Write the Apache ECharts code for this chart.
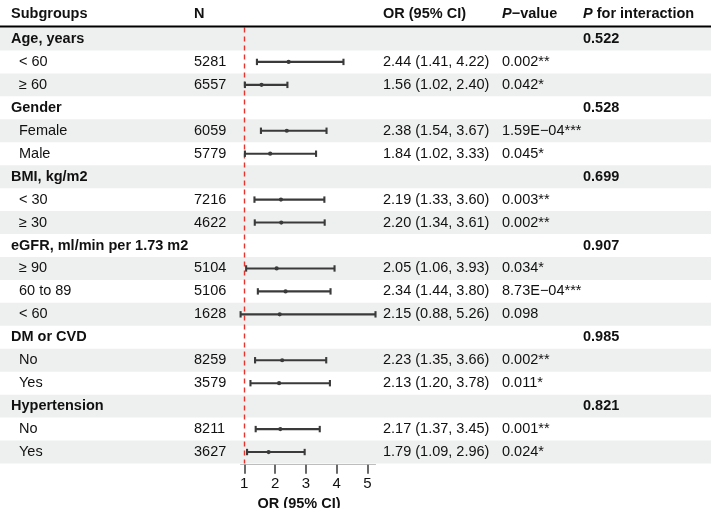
<!DOCTYPE html>
<html><head><meta charset="utf-8">
<script src="https://cdn.jsdelivr.net/npm/echarts@6/dist/echarts.min.js"></script>
<style>html,body{margin:0;padding:0;background:#fff}#c{width:711px;height:508px}</style>
</head><body><div id="c"></div>
<script>
// ---- data ----
const subgroups = ['Age, years', '< 60', '\u2265 60', 'Gender', 'Female', 'Male', 'BMI, kg/m2', '< 30', '\u2265 30',
  'eGFR, ml/min per 1.73 m2', '\u2265 90', '60 to 89', '< 60', 'DM or CVD', 'No', 'Yes', 'Hypertension', 'No', 'Yes'];
const isGroup = [1,0,0,1,0,0,1,0,0,1,0,0,0,1,0,0,1,0,0];
const nValues = ['', '5281', '6557', '', '6059', '5779', '', '7216', '4622', '', '5104', '5106', '1628', '', '8259', '3579', '', '8211', '3627'];
const orValues = [null, 2.44, 1.56, null, 2.38, 1.84, null, 2.19, 2.20, null, 2.05, 2.34, 2.15, null, 2.23, 2.13, null, 2.17, 1.79];
const lowerCI = [null, 1.41, 1.02, null, 1.54, 1.02, null, 1.33, 1.34, null, 1.06, 1.44, 0.88, null, 1.35, 1.20, null, 1.37, 1.09];
const upperCI = [null, 4.22, 2.40, null, 3.67, 3.33, null, 3.60, 3.61, null, 3.93, 3.80, 5.26, null, 3.66, 3.78, null, 3.45, 2.96];
const pValues = ['', '0.002**', '0.042*', '', '1.59E\u221204***', '0.045*', '', '0.003**', '0.002**', '',
  '0.034*', '8.73E\u221204***', '0.098', '', '0.002**', '0.011*', '', '0.001**', '0.024*'];
const pInteraction = ['0.522', '', '', '0.528', '', '', '0.699', '', '', '0.907', '', '', '', '0.985', '', '', '0.821', '', ''];
const xTicks = [1, 2, 3, 4, 5];
const refLine = 1;

// ---- layout / style ----
const FONT = '"Liberation Sans", Arial, Helvetica, sans-serif';
const FS = 14.5;
const TXT = '#111';
const SHADE = '#eef0ef';
const CI_COLOR = '#3a3a3a';
const COL = { label: 11, sub: 19, n: 194, or: 383, p: 502, pint: 583 };

const rowIdx = subgroups.map((_, i) => i);
const xMin = Math.min(...lowerCI.filter(v => v != null));
const xMax = Math.max(...upperCI.filter(v => v != null));

const ciData = [];
rowIdx.forEach(i => { if (orValues[i] != null) ciData.push([orValues[i], i, lowerCI[i], upperCI[i]]); });

const chart = echarts.init(document.getElementById('c'), null, { renderer: 'canvas' });
chart.setOption({
  backgroundColor: '#fff',
  animation: false,
  grid: { left: 240.6, width: 134.9, top: 27.5, height: 436, containLabel: false, outerBoundsMode: 'none' },
  xAxis: {
    type: 'value', min: xMin, max: xMax, offset: 1.2,
    axisLine: { show: true, lineStyle: { color: '#bdbdbd', width: 1.2 } },
    axisTick: { show: true, customValues: xTicks, length: 9, lineStyle: { color: '#444', width: 1.6 } },
    axisLabel: { customValues: xTicks, color: TXT, fontSize: 15, fontFamily: FONT, margin: 12 },
    splitLine: { show: false },
    name: 'OR (95% CI)', nameLocation: 'middle', nameGap: 25,
    nameTextStyle: { fontWeight: 'bold', fontSize: FS, color: TXT, fontFamily: FONT, padding: [0, 18, 0, 0] }
  },
  yAxis: { type: 'category', data: subgroups, inverse: true, show: false },
  graphic: [
    { type: 'line', shape: { x1: 0, y1: 26.5, x2: 711, y2: 26.5 }, style: { stroke: '#000', lineWidth: 2 }, z: 10 },
    { type: 'text', left: COL.label, top: 6, style: { text: 'Subgroups', font: `bold ${FS}px ${FONT}`, fill: TXT } },
    { type: 'text', left: COL.n, top: 6, style: { text: 'N', font: `bold ${FS}px ${FONT}`, fill: TXT } },
    { type: 'text', left: COL.or, top: 6, style: { text: 'OR (95% CI)', font: `bold ${FS}px ${FONT}`, fill: TXT } },
    { type: 'text', left: COL.p, top: 6, style: { text: '{i|P}{b|\u2212value}', rich: {
      i: { fontStyle: 'italic', fontWeight: 'bold', fontSize: FS, fontFamily: FONT, fill: TXT },
      b: { fontWeight: 'bold', fontSize: FS, fontFamily: FONT, fill: TXT } } } },
    { type: 'text', left: COL.pint, top: 6, style: { text: '{i|P}{b| for interaction}', rich: {
      i: { fontStyle: 'italic', fontWeight: 'bold', fontSize: FS, fontFamily: FONT, fill: TXT },
      b: { fontWeight: 'bold', fontSize: FS, fontFamily: FONT, fill: TXT } } } }
  ],
  series: [
    {
      type: 'custom', name: 'shade', clip: false, z: 0, silent: true,
      data: rowIdx.filter(i => i % 2 === 0).map(i => [xMin, i]),
      encode: { x: 0, y: 1 },
      renderItem: function (params, api) {
        const idx = api.value(1);
        const c = api.coord([xMin, idx]);
        const h = api.size([0, 1])[1];
        return { type: 'rect', shape: { x: 0, y: c[1] - h / 2, width: api.getWidth(), height: h }, style: { fill: SHADE } };
      }
    },
    {
      type: 'custom', name: 'text', clip: false, z: 5, silent: true,
      data: rowIdx.map(i => [xMin, i]),
      encode: { x: 0, y: 1 },
      renderItem: function (params, api) {
        const i = api.value(1);
        const y = api.coord([xMin, i])[1];
        const mk = (x, t, bold) => ({ type: 'text', x: x, y: y, style: { text: t, fill: TXT, font: `${bold ? 'bold ' : ''}${FS}px ${FONT}`, verticalAlign: 'middle', align: 'left' } });
        const els = [mk(isGroup[i] ? COL.label : COL.sub, subgroups[i], !!isGroup[i])];
        if (nValues[i]) els.push(mk(COL.n, nValues[i], false));
        if (orValues[i] != null) els.push(mk(COL.or, orValues[i].toFixed(2) + ' (' + lowerCI[i].toFixed(2) + ', ' + upperCI[i].toFixed(2) + ')', false));
        if (pValues[i]) els.push(mk(COL.p, pValues[i], false));
        if (pInteraction[i]) els.push(mk(COL.pint, pInteraction[i], true));
        return { type: 'group', children: els };
      }
    },
    {
      type: 'custom', name: 'ci', clip: false, z: 6,
      data: ciData,
      encode: { x: [0, 2, 3], y: 1 },
      renderItem: function (params, api) {
        const idx = api.value(1);
        const pm = api.coord([api.value(0), idx]);
        const pl = api.coord([api.value(2), idx]);
        const ph = api.coord([api.value(3), idx]);
        const cap = 3.2;
        const st = { stroke: CI_COLOR, lineWidth: 2.1 };
        return { type: 'group', children: [
          { type: 'line', shape: { x1: pl[0], y1: pl[1], x2: ph[0], y2: ph[1] }, style: st },
          { type: 'line', shape: { x1: pl[0], y1: pl[1] - cap, x2: pl[0], y2: pl[1] + cap }, style: st },
          { type: 'line', shape: { x1: ph[0], y1: ph[1] - cap, x2: ph[0], y2: ph[1] + cap }, style: st },
          { type: 'circle', shape: { cx: pm[0], cy: pm[1], r: 2.1 }, style: { fill: CI_COLOR } }
        ] };
      }
    },
    {
      type: 'line', name: 'ref', data: [], silent: true,
      markLine: {
        silent: true, symbol: 'none', label: { show: false },
        lineStyle: { color: '#e8322b', type: [5, 4], width: 1.4 },
        data: [{ xAxis: refLine }]
      }
    }
  ]
});
</script></body></html>
